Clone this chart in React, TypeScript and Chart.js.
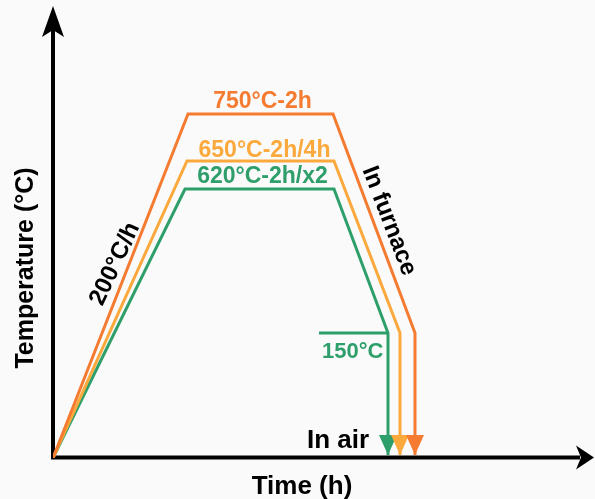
import React, { useEffect, useRef } from "react";
import { Chart, registerables } from "chart.js";

Chart.register(...registerables);

// ---- Data (schematic units: time in arbitrary h-units, temperature in plot units) ----
const scheduleLabels = ["750°C-2h", "650°C-2h/4h", "620°C-2h/x2"];
const time750 = [0, 2.505, 5.195, 6.716, 6.716];
const temp750 = [0, 76.44, 76.44, 27.78, 0.67];
const time650 = [0, 2.486, 5.213, 6.438, 6.438];
const temp650 = [0, 66.0, 66.0, 27.78, 0.67];
const time620 = [0, 2.449, 5.213, 6.215, 6.215];
const temp620 = [0, 59.78, 59.78, 27.78, 0.67];
const holdTime150 = [4.935, 6.215];
const holdTemp150 = [27.78, 27.78];
const rampLabel = "200°C/h";
const furnaceLabel = "In furnace";
const airLabel = "In air";
const holdLabel = "150°C";
const xTitle = "Time (h)";
const yTitle = "Temperature (°C)";

const ORANGE = "#f47b30";
const YELLOW = "#fba93c";
const GREEN = "#2e9f6b";
const FONT = "'Liberation Sans', Arial, sans-serif";

function pts(xs: number[], ys: number[]) {
  return xs.map((v, i) => ({ x: v, y: ys[i] }));
}

function arrowHead(
  ctx: CanvasRenderingContext2D,
  tx: number,
  ty: number,
  dx: number,
  dy: number,
  len: number,
  half: number,
  notch: number,
  color: string
) {
  const px = -dy;
  const py = dx;
  const bx = tx - dx * len;
  const by = ty - dy * len;
  ctx.beginPath();
  ctx.moveTo(tx, ty);
  ctx.lineTo(bx + px * half, by + py * half);
  ctx.lineTo(tx - dx * (len - notch), ty - dy * (len - notch));
  ctx.lineTo(bx - px * half, by - py * half);
  ctx.closePath();
  ctx.fillStyle = color;
  ctx.fill();
}

const schematicPlugin = {
  id: "schematic",
  beforeDraw(chart: any) {
    const ctx = chart.ctx;
    ctx.save();
    ctx.fillStyle = "#fafafa";
    ctx.fillRect(0, 0, chart.width, chart.height);
    ctx.restore();
  },
  beforeDatasetsDraw(chart: any) {
    const ctx: CanvasRenderingContext2D = chart.ctx;
    const { x, y } = chart.scales;
    const x0 = x.getPixelForValue(0);
    const y0 = y.getPixelForValue(0) - 0.5;
    const xEnd = x.right + 2;
    const yEnd = y.top - 2;
    ctx.save();
    ctx.strokeStyle = "#000";
    ctx.lineWidth = 4;
    ctx.lineCap = "butt";
    ctx.beginPath();
    ctx.moveTo(x0, y0 + 2);
    ctx.lineTo(x0, yEnd + 24);
    ctx.moveTo(x0 - 2, y0);
    ctx.lineTo(xEnd - 14, y0);
    ctx.stroke();
    arrowHead(ctx, x0, yEnd, 0, -1, 31, 11, 7, "#000");
    arrowHead(ctx, xEnd, y0, 1, 0, 18, 12, 5, "#000");
    ctx.restore();
  },
  afterDatasetsDraw(chart: any) {
    const ctx: CanvasRenderingContext2D = chart.ctx;
    const { x, y } = chart.scales;
    ctx.save();
    // coloured arrowheads (in air quench)
    const ends = [
      [time620, temp620, GREEN],
      [time650, temp650, YELLOW],
      [time750, temp750, ORANGE],
    ] as [number[], number[], string][];
    ends.forEach(([xs, ys, c]) => {
      const n = xs.length - 1;
      arrowHead(ctx, x.getPixelForValue(xs[n]), y.getPixelForValue(ys[n]), 0, 1, 20, 9, 0, c);
    });

    ctx.textBaseline = "alphabetic";
    // plateau labels
    const mid = (xs: number[]) => x.getPixelForValue((xs[1] + xs[2]) / 2);
    ctx.font = `bold 23px ${FONT}`;
    ctx.textAlign = "center";
    ctx.fillStyle = ORANGE;
    ctx.fillText(scheduleLabels[0], mid(time750) + 2, y.getPixelForValue(temp750[1]) - 6);
    ctx.fillStyle = YELLOW;
    ctx.fillText(scheduleLabels[1], mid(time650) + 4, y.getPixelForValue(temp650[1]) - 4);
    ctx.fillStyle = GREEN;
    ctx.fillText(scheduleLabels[2], mid(time620) + 3, y.getPixelForValue(temp620[1]) - 6);

    // 150°C
    ctx.textAlign = "left";
    ctx.font = `bold 22px ${FONT}`;
    ctx.fillStyle = GREEN;
    ctx.fillText(holdLabel, x.getPixelForValue(holdTime150[0]) + 3, y.getPixelForValue(holdTemp150[0]) + 25);

    // In air
    ctx.font = `bold 26px ${FONT}`;
    ctx.fillStyle = "#000";
    ctx.fillText(airLabel, 307, 448);

    // Time (h)
    ctx.textAlign = "center";
    ctx.font = `bold 26px ${FONT}`;
    ctx.fillText(xTitle, 302, 494);

    // Temperature (°C)
    ctx.font = `bold 25px ${FONT}`;
    ctx.save();
    ctx.translate(33, 268);
    ctx.rotate(-Math.PI / 2);
    ctx.fillText(yTitle, 0, 0);
    ctx.restore();

    // 200°C/h
    ctx.textBaseline = "middle";
    ctx.save();
    ctx.translate(115, 264);
    ctx.rotate((-65 * Math.PI) / 180);
    ctx.font = `bold 24px ${FONT}`;
    ctx.fillText(rampLabel, 0, 0);
    ctx.restore();

    // In furnace
    ctx.save();
    ctx.translate(389, 221);
    ctx.rotate((69 * Math.PI) / 180);
    ctx.font = `bold 24px ${FONT}`;
    ctx.fillText(furnaceLabel, 0, 0);
    ctx.restore();

    ctx.restore();
  },
};

export default function App() {
  const ref = useRef<HTMLCanvasElement | null>(null);
  useEffect(() => {
    if (!ref.current) return;
    const line = (data: any[], color: string) => ({
      data,
      borderColor: color,
      backgroundColor: color,
      borderWidth: 3,
      pointRadius: 0,
      fill: false,
      tension: 0,
      borderJoinStyle: "miter" as const,
    });
    const chart = new Chart(ref.current, {
      type: "line",
      data: {
        datasets: [
          line(pts(time750, temp750), ORANGE),
          line(pts(time650, temp650), YELLOW),
          line(pts(time620, temp620), GREEN),
          line(pts(holdTime150, holdTemp150), GREEN),
        ],
      },
      options: {
        responsive: false,
        animation: false,
        devicePixelRatio: 1,
        layout: { padding: { left: 53, right: 3, top: 8, bottom: 41 } },
        scales: {
          x: { type: "linear", min: 0, max: 10, display: false },
          y: { type: "linear", min: 0, max: 100, display: false },
        },
        plugins: { legend: { display: false }, tooltip: { enabled: false } },
        events: [],
      },
      plugins: [schematicPlugin],
    });
    return () => chart.destroy();
  }, []);
  return (
    <div style={{ position: "absolute", left: 0, top: 0, width: 595, height: 499 }}>
      <canvas ref={ref} width={595} height={499} style={{ display: "block" }} />
    </div>
  );
}
